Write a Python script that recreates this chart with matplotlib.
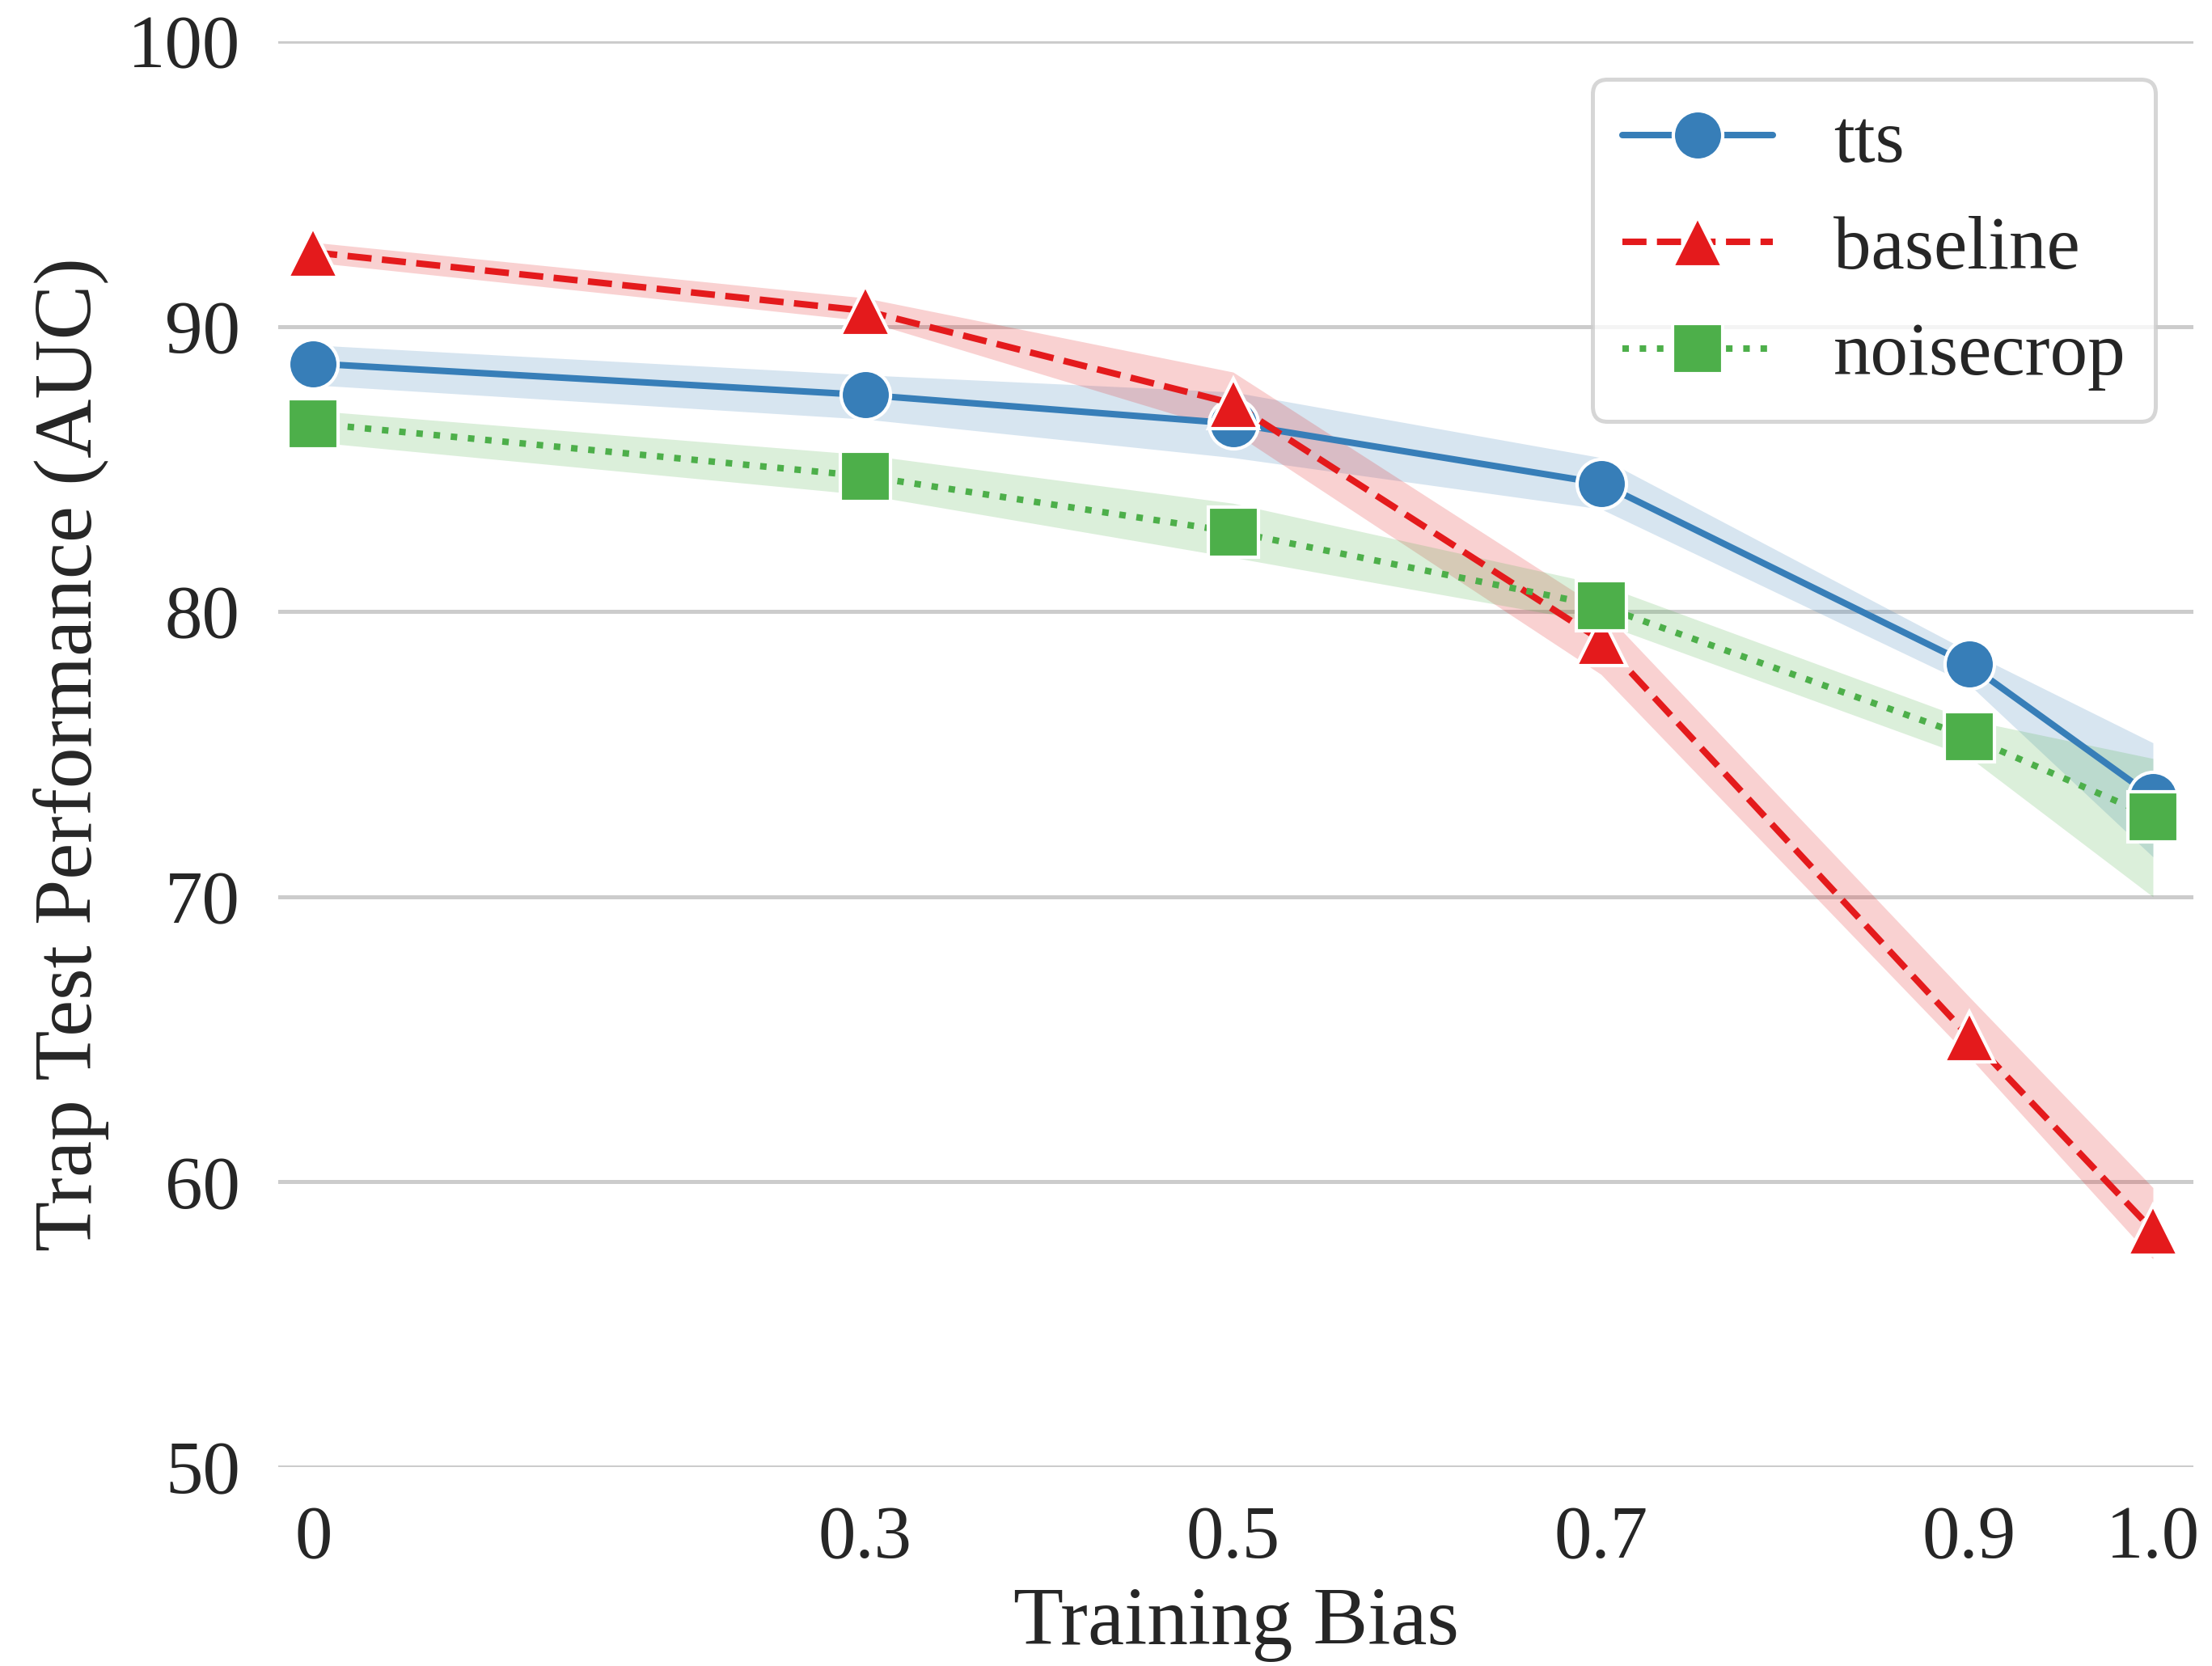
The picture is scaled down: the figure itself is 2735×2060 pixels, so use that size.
import matplotlib
matplotlib.use('Agg')
import matplotlib.pyplot as plt
import seaborn as sns

# training bias levels and trap-test AUC (mean + band)
bias = [0, 0.3, 0.5, 0.7, 0.9, 1.0]
bias_labels = ['0', '0.3', '0.5', '0.7', '0.9', '1.0']

tts = [88.7, 87.6, 86.6, 84.5, 78.15, 73.5]
tts_lo = [87.95, 86.75, 85.4, 83.6, 77.45, 71.4]
tts_hi = [89.35, 88.3, 87.7, 85.4, 78.6, 75.4]

baseline = [92.6, 90.55, 87.3, 79.0, 65.1, 58.3]
baseline_lo = [92.25, 90.2, 86.3, 77.8, 64.4, 57.3]
baseline_hi = [92.95, 91.0, 88.4, 80.1, 66.5, 59.8]

noisecrop = [86.6, 84.75, 82.8, 80.2, 75.6, 72.8]
noisecrop_lo = [85.95, 84.1, 81.9, 79.6, 74.9, 70.0]
noisecrop_hi = [87.05, 85.5, 83.8, 80.95, 76.2, 74.85]

sns.set_style('whitegrid')
plt.rcParams['font.family'] = ['Liberation Serif', 'DejaVu Serif']
FS = 33.5      # ticks / legend
FS_LAB = 36.5  # axis labels

fig, ax = plt.subplots(figsize=(13.675, 10.3), dpi=200)
fig.subplots_adjust(left=0.1258, right=0.9916, top=0.9752, bottom=0.1194)

series = [
    ('tts', tts, tts_lo, tts_hi, '#377eb8', '-', 'o'),
    ('baseline', baseline, baseline_lo, baseline_hi, '#e41a1c', '--', '^'),
    ('noisecrop', noisecrop, noisecrop_lo, noisecrop_hi, '#4daf4a', ':', 's'),
]
for name, y, lo, hi, col, ls, mk in series:
    ax.plot(bias, y, ls=ls, color=col, lw=2.9, marker=mk, ms=22,
            mec='white', mew=1.5, label=name)
    ax.fill_between(bias, lo, hi, color=col, alpha=0.2, lw=0)

ax.set_xlim(-0.019, 1.022)
ax.set_ylim(50, 100)
ax.set_xticks(bias)
ax.set_xticklabels(bias_labels)
ax.set_yticks([50, 60, 70, 80, 90, 100])
ax.grid(axis='x', visible=False)
ax.grid(axis='y', color='.8', lw=1.8)
for s in ax.spines.values():
    s.set_visible(False)
ax.tick_params(axis='both', length=0, pad=17, labelsize=FS, labelcolor='.15')

ax.set_xlabel('Training Bias', fontsize=FS_LAB, color='.15', labelpad=6)
ax.set_ylabel('Trap Test Performance (AUC)', fontsize=FS_LAB, color='.15', labelpad=8)

leg = ax.legend(loc='upper right', fontsize=FS, frameon=True, fancybox=True,
                borderaxespad=0.5)
leg.get_frame().set_edgecolor('.8')
leg.get_frame().set_linewidth(1.8)

plt.savefig('out.png', dpi=200)
